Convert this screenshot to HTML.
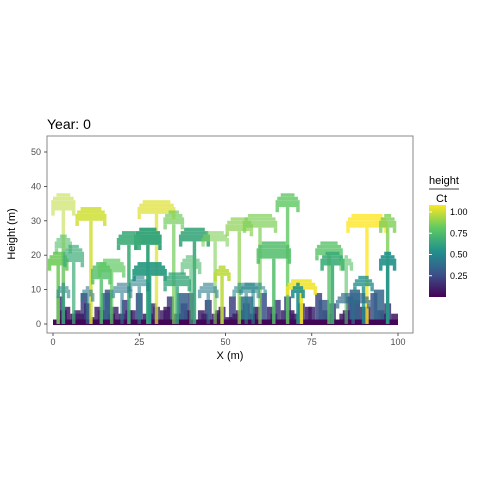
<!DOCTYPE html>
<html><head><meta charset="utf-8"><style>
body{margin:0;background:#fff;}
svg text{font-family:"Liberation Sans",sans-serif;}
</style></head><body>
<svg id="chart" width="480" height="480" viewBox="0 0 480 480">
<rect width="480" height="480" fill="#fff"/>
<text x="47" y="129" font-size="14" fill="#000">Year: 0</text>
<g id="plot"></g>
<rect x="47" y="136" width="366" height="197" fill="none" stroke="#888" stroke-width="1"/>
<g id="axes"></g>
<text x="230" y="359" font-size="11" text-anchor="middle">X (m)</text>
<text transform="translate(15,234) rotate(-90)" font-size="11" text-anchor="middle">Height (m)</text>
<g>
<text x="429" y="184" font-size="11">height</text>
<line x1="429" y1="189" x2="459" y2="189" stroke="#000" stroke-width="0.8"/>
<text x="436" y="202" font-size="11">Ct</text>
<defs><linearGradient id="vg" x1="0" y1="1" x2="0" y2="0">
<stop offset="0" stop-color="#440154"/><stop offset="0.25" stop-color="#3b528b"/><stop offset="0.5" stop-color="#21918c"/><stop offset="0.75" stop-color="#5ec962"/><stop offset="1" stop-color="#fde725"/></linearGradient></defs>
<rect x="429" y="205" width="17" height="92" fill="url(#vg)"/>
<g id="legticks"></g>
</g>
</svg>
<script>
const xTicks=[0,25,50,75,100];
const yTicks=[0,10,20,30,40,50];
const legTicks=[0.25,0.5,0.75,1.0];
const treeX=[3,11,30,35,27.5,22,41,28,47,54,60,68,64,91,97,80,81,97,49,72,71,1.5,3,6,14,17,40,58,90,85,36,87,3,25,20,56,45,10];
const treeH=[38,34,36,33,28,27,28,18,27,31,32,38,24,32,32,24,21,21,17,13,12,21,26,23,18,19,20,12,14,20,15,9,12,14,12,12,12,11];
const crownR=[3.5,4.5,5.5,3,4,3.5,4.5,5,4,4,5,3.5,5,6,2.5,4,3.5,2.5,2.5,4.5,2,3,2.5,3,3,4,3,4,3,2,4,5,2,3,3,4,3,2];
const crownD=[5,4,4,4,5,4,4,4,3,4,4,4,5,4,4,4,4,4,3,3,3,4,4,5,5,4,4,2,3,3,4,3,3,3,3,3,3,3];
const treeCt=[0.9,0.93,0.95,0.78,0.6,0.62,0.6,0.55,0.8,0.82,0.8,0.75,0.7,1.0,0.8,0.72,0.62,0.5,0.9,0.98,0.5,0.78,0.7,0.62,0.7,0.75,0.68,0.45,0.5,0.72,0.6,0.35,0.45,0.45,0.4,0.45,0.42,0.4];
const treeAlpha=[0.55,0.85,0.7,0.7,1,0.9,0.9,0.95,0.6,0.7,0.7,0.8,0.85,0.8,0.8,0.8,0.9,0.9,0.9,0.9,0.9,0.9,0.6,0.7,0.8,0.7,0.6,0.6,0.8,0.6,0.8,0.7,0.6,0.6,0.6,0.6,0.6,0.6];
const usX=[1,3,5,8,9,11,13,15,17,19,20,22,24,26,29,31,33,35,37,39,42,44,46,48,51,53,55,57,60,62,64,66,69,71,74,76,78,80,83,85,87,89,92,94,96,98,6,28,50,67,86,2,7,12,16,21,27,32,38,43,47,52,58,63,68,73,79,84,90,95,14,36,54,77,93];
const usH=[8,5,3,9,6,2,4,10,5,3,7,4,9,3,5,4,8,3,6,9,4,7,3,5,8,4,6,3,9,5,7,4,3,6,5,9,4,6,3,8,7,5,9,4,6,3,4,6,2,8,10,4,3,5,3,4,3,5,4,3,4,3,5,3,4,5,3,4,5,3,9,9,8,7,10];
const usW=[2,2,2,2,2,1,2,2,2,2,2,2,2,2,2,2,2,2,2,2,2,2,2,2,2,2,2,2,2,2,2,2,2,2,2,2,2,2,2,2,2,2,2,2,2,2,2,2,2,2,3,2,2,2,2,2,2,2,2,2,2,2,2,2,2,2,2,2,2,2,3,3,4,3,3];
const usCt=[0.15,0.08,0.05,0.2,0.12,0.05,0.1,0.25,0.12,0.06,0.18,0.1,0.22,0.07,0.14,0.1,0.2,0.06,0.15,0.22,0.1,0.18,0.08,0.12,0.2,0.1,0.15,0.07,0.24,0.12,0.18,0.1,0.06,0.15,0.12,0.22,0.1,0.15,0.07,0.2,0.18,0.12,0.25,0.1,0.15,0.06,0.1,0.15,0.05,0.2,0.3,0.05,0.08,0.1,0.06,0.08,0.1,0.07,0.06,0.09,0.07,0.08,0.06,0.1,0.07,0.08,0.06,0.09,0.07,0.08,0.3,0.3,0.35,0.28,0.32];
const usAlpha=0.85;

const NS='http://www.w3.org/2000/svg';
const xs=v=>53+v*3.45, ys=v=>324-v*3.44;
const vir=[[68,1,84],[59,82,139],[33,145,140],[94,201,98],[253,231,37]];
function col(t){t=Math.max(0,Math.min(1,t))*4;const i=Math.min(3,Math.floor(t)),f=t-i;const a=vir[i],b=vir[i+1];return 'rgb('+a.map((c,k)=>Math.round(c+(b[k]-c)*f)).join(',')+')';}
const plot=document.getElementById('plot');
function rect(x0,y0,x1,y1,fill,op,parent){const r=document.createElementNS(NS,'rect');r.setAttribute('x',xs(x0));r.setAttribute('y',ys(y1));r.setAttribute('width',Math.max(0,xs(x1)-xs(x0)));r.setAttribute('height',Math.max(0,ys(y0)-ys(y1)));r.setAttribute('fill',fill);r.setAttribute('fill-opacity',op);parent.appendChild(r);return r;}
usX.forEach((x,i)=>{const r=rect(x,0,x+usW[i],usH[i],col(usCt[i]),usAlpha,plot);

});
const gr=rect(0,-0.3,100,1.3,col(0.02),1,plot);


treeX.forEach((x,i)=>{const g=document.createElementNS(NS,'g');


g.setAttribute('opacity',treeAlpha[i]);
const c=col(treeCt[i]),h=treeH[i],r=crownR[i],d=crownD[i];
rect(x-0.5,0,x+0.5,h-d,c,1,g);
rect(x-r+1.5,h-1,x+r-1.5,h,c,1,g);
rect(x-r+0.5,h-2,x+r-0.5,h-1,c,1,g);
rect(x-r,h-d,x+r,h-2,c,1,g);
rect(x-r,h-d-1.5,x-r+1,h-d,c,1,g);
rect(x+r-1,h-d-1.5,x+r,h-d,c,1,g);
plot.appendChild(g);});
const axes=document.getElementById('axes');
function txt(x,y,s,anchor,parent){const t=document.createElementNS(NS,'text');t.setAttribute('x',x);t.setAttribute('y',y);t.setAttribute('font-size','9');t.setAttribute('fill','#4d4d4d');t.setAttribute('text-anchor',anchor);t.textContent=s;parent.appendChild(t);return t;}
function ln(x1,y1,x2,y2,parent){const l=document.createElementNS(NS,'line');l.setAttribute('x1',x1);l.setAttribute('y1',y1);l.setAttribute('x2',x2);l.setAttribute('y2',y2);l.setAttribute('stroke','#333');l.setAttribute('stroke-width','0.8');parent.appendChild(l);}
xTicks.forEach(v=>{ln(xs(v),333,xs(v),336,axes);const t=txt(xs(v),345,String(v),'middle',axes);

});
yTicks.forEach(v=>{ln(44,ys(v),47,ys(v),axes);const t=txt(41,ys(v)+3,String(v),'end',axes);

});
const lg=document.getElementById('legticks');
legTicks.forEach(v=>{const y=297-v*85;
const l=document.createElementNS(NS,'line');l.setAttribute('x1',429);l.setAttribute('x2',432);l.setAttribute('y1',y);l.setAttribute('y2',y);l.setAttribute('stroke','#fff');lg.appendChild(l);
const t=txt(450,y+3,v.toFixed(2),'start',lg);t.setAttribute('fill','#000');

});
</script>
</body></html>
